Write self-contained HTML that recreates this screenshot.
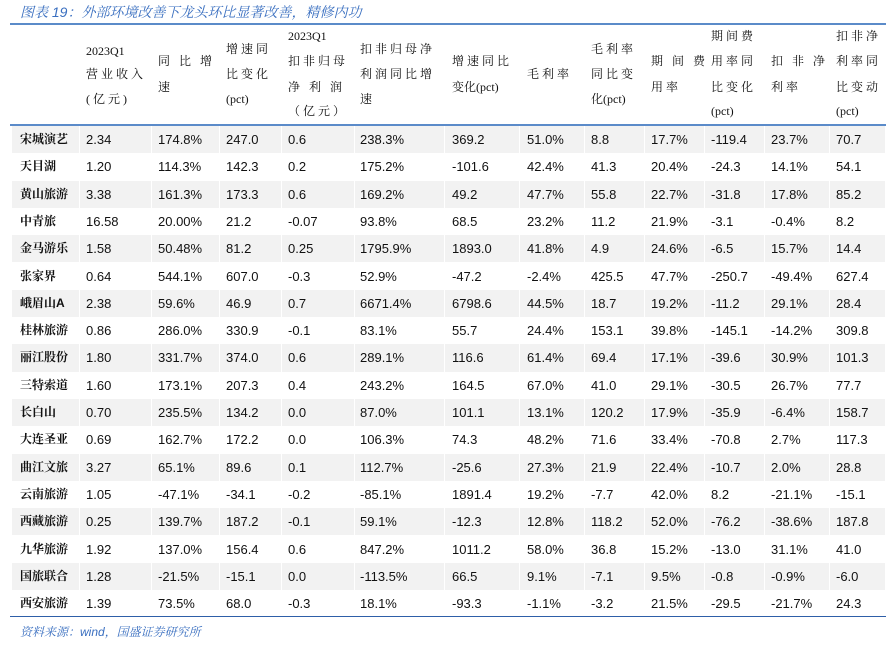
<!DOCTYPE html>
<html><head><meta charset="utf-8">
<style>
body{margin:0;background:#fff;width:895px;height:662px;position:relative;overflow:hidden;font-family:"Liberation Sans","Noto Sans CJK SC",sans-serif;color:#111}
.t{position:absolute;white-space:nowrap;line-height:15px}
.title{left:20px;top:3px;font-size:14px;color:#3a6fc0;font-style:italic;font-family:"Liberation Sans","Noto Serif CJK SC",serif;line-height:18px}
.hl{position:absolute;left:10px;width:876px;background:#5b8bc9}
.bg{position:absolute;background:#f2f2f2}
.h{font-size:12px;font-family:"Liberation Serif","Noto Serif CJK SC",serif}
.c{font-size:13px}
.n{font-size:12px;font-weight:bold;font-family:"Liberation Sans","Noto Serif CJK SC",serif}
.src{left:20px;top:625px;font-size:12px;color:#3a6fc0;font-style:italic;font-family:"Liberation Sans","Noto Serif CJK SC",serif}
</style></head><body>
<div class="t title">图表 19：外部环境改善下龙头环比显著改善，精修内功</div>
<div class="hl" style="top:23px;height:2px"></div>
<div class="hl" style="top:124px;height:2px"></div>
<div class="hl" style="top:616px;height:1px;background:#2e5fa8"></div>
<div class="t src">资料来源：wind，国盛证券研究所</div>
<div id="tbl"></div>
<script>
const companies=["宋城演艺","天目湖","黄山旅游","中青旅","金马游乐","张家界","峨眉山A","桂林旅游","丽江股份","三特索道","长白山","大连圣亚","曲江文旅","云南旅游","西藏旅游","九华旅游","国旅联合","西安旅游"];
const revenue=["2.34","1.20","3.38","16.58","1.58","0.64","2.38","0.86","1.80","1.60","0.70","0.69","3.27","1.05","0.25","1.92","1.28","1.39"];
const revYoy=["174.8%","114.3%","161.3%","20.00%","50.48%","544.1%","59.6%","286.0%","331.7%","173.1%","235.5%","162.7%","65.1%","-47.1%","139.7%","137.0%","-21.5%","73.5%"];
const revChg=["247.0","142.3","173.3","21.2","81.2","607.0","46.9","330.9","374.0","207.3","134.2","172.2","89.6","-34.1","187.2","156.4","-15.1","68.0"];
const profit=["0.6","0.2","0.6","-0.07","0.25","-0.3","0.7","-0.1","0.6","0.4","0.0","0.0","0.1","-0.2","-0.1","0.6","0.0","-0.3"];
const profYoy=["238.3%","175.2%","169.2%","93.8%","1795.9%","52.9%","6671.4%","83.1%","289.1%","243.2%","87.0%","106.3%","112.7%","-85.1%","59.1%","847.2%","-113.5%","18.1%"];
const profChg=["369.2","-101.6","49.2","68.5","1893.0","-47.2","6798.6","55.7","116.6","164.5","101.1","74.3","-25.6","1891.4","-12.3","1011.2","66.5","-93.3"];
const gross=["51.0%","42.4%","47.7%","23.2%","41.8%","-2.4%","44.5%","24.4%","61.4%","67.0%","13.1%","48.2%","27.3%","19.2%","12.8%","58.0%","9.1%","-1.1%"];
const grossChg=["8.8","41.3","55.8","11.2","4.9","425.5","18.7","153.1","69.4","41.0","120.2","71.6","21.9","-7.7","118.2","36.8","-7.1","-3.2"];
const expense=["17.7%","20.4%","22.7%","21.9%","24.6%","47.7%","19.2%","39.8%","17.1%","29.1%","17.9%","33.4%","22.4%","42.0%","52.0%","15.2%","9.5%","21.5%"];
const expChg=["-119.4","-24.3","-31.8","-3.1","-6.5","-250.7","-11.2","-145.1","-39.6","-30.5","-35.9","-70.8","-10.7","8.2","-76.2","-13.0","-0.8","-29.5"];
const netMargin=["23.7%","14.1%","17.8%","-0.4%","15.7%","-49.4%","29.1%","-14.2%","30.9%","26.7%","-6.4%","2.7%","2.0%","-21.1%","-38.6%","31.1%","-0.9%","-21.7%"];
const netChg=["70.7","54.1","85.2","8.2","14.4","627.4","28.4","309.8","101.3","77.7","158.7","117.3","28.8","-15.1","187.8","41.0","-6.0","24.3"];
const cols=[companies,revenue,revYoy,revChg,profit,profYoy,profChg,gross,grossChg,expense,expChg,netMargin,netChg];
const colX=[20,86,158,226,288,360,452,527,591,651,711,771,836];
const bounds=[12,80,152,220,282,355,445,520,585,645,705,765,830,886];
const headers=[[],
 [["2023Q1",52],["营业收入",75],["(亿元)",100]],
 [["同 比 增",62],["速",88]],
 [["增速同",50],["比变化",75],["(pct)",100]],
 [["2023Q1",37],["扣非归母",62],["净 利 润",88],["（亿元）",112]],
 [["扣非归母净",50],["利润同比增",75],["速",100]],
 [["增速同比",62],["变化(pct)",88]],
 [["毛利率",75]],
 [["毛利率",50],["同比变",75],["化(pct)",100]],
 [["期 间 费",62],["用率",88]],
 [["期间费",37],["用率同",62],["比变化",88],["(pct)",112]],
 [["扣 非 净",62],["利率",88]],
 [["扣非净",37],["利率同",62],["比变动",88],["(pct)",112]]];
const tbl=document.getElementById('tbl');
const top0=126,rowH=27.3;
headers.forEach((lines,ci)=>{lines.forEach(([txt,y])=>{
 const d=document.createElement('div');d.className='t h';
 
 
 d.style.left=colX[ci]+'px';d.style.top=(y-8)+'px';
 d.style.letterSpacing=/[A-Za-z0-9]/.test(txt)?'0px':'3px';
 d.textContent=txt;tbl.appendChild(d);});});
companies.forEach((_,ri)=>{
 const y=top0+ri*rowH;
 if(ri%2===0){for(let ci=0;ci<cols.length;ci++){
  const b=document.createElement('div');b.className='bg';
  
  
  b.style.left=bounds[ci]+'px';b.style.width=(bounds[ci+1]-bounds[ci]-1)+'px';b.style.top=y+'px';b.style.height=rowH+'px';tbl.appendChild(b);}}
 cols.forEach((arr,ci)=>{
  const d=document.createElement('div');d.className='t '+(ci===0?'n':'c');
  
  
  d.style.left=colX[ci]+'px';d.style.top=(y+6)+'px';d.textContent=arr[ri];tbl.appendChild(d);});
});
</script>
</body></html>
